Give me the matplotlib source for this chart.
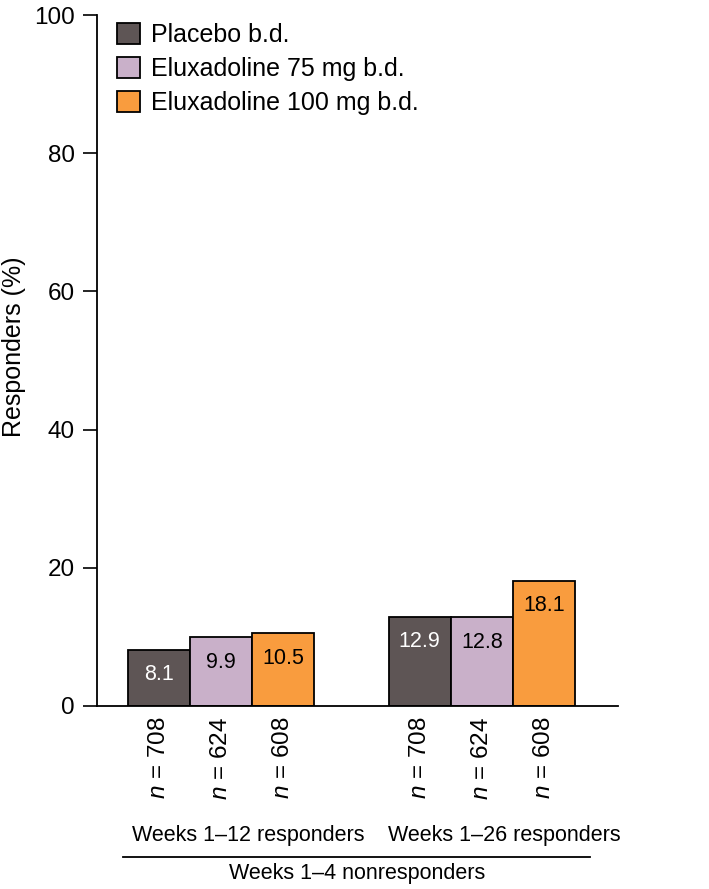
import matplotlib
matplotlib.use("Agg")
import matplotlib.pyplot as plt
from matplotlib.patches import Patch

plt.rcParams['font.family'] = ['Liberation Sans', 'DejaVu Sans']
plt.rcParams['mathtext.fontset'] = 'custom'
plt.rcParams['mathtext.it'] = 'Liberation Sans:italic'
plt.rcParams['mathtext.rm'] = 'Liberation Sans'

treatments = ['Placebo b.d.', 'Eluxadoline 75 mg b.d.', 'Eluxadoline 100 mg b.d.']
colors = ['#5e5555', '#c9b0c9', '#f99c3e']
label_colors = ['white', 'black', 'black']
groups = ['Weeks 1\u201312 responders', 'Weeks 1\u201326 responders']
supergroup = 'Weeks 1\u20134 nonresponders'
responders = [[8.1, 9.9, 10.5], [12.9, 12.8, 18.1]]
n_values = [[708, 624, 608], [708, 624, 608]]
group_starts = [1.0, 5.2]

fig = plt.figure(figsize=(7.09, 8.89), dpi=100)
ax = fig.add_axes([0.137, 0.206, 0.735, 0.777])

for g, start in enumerate(group_starts):
    for i in range(3):
        x = start + i
        val = responders[g][i]
        ax.bar(x, val, width=1.0, color=colors[i], edgecolor='black', linewidth=1.3)
        ax.annotate(f'{val}', (x, val), xytext=(0, -18), textcoords='offset points',
                    ha='center', va='center', fontsize=15.5, color=label_colors[i])
        ax.annotate(f'$n$ = {n_values[g][i]}', (x, 0), xytext=(0, -8),
                    textcoords='offset points', ha='center', va='top',
                    rotation=90, fontsize=17.5)

ax.set_xlim(0, 8.4)
ax.set_ylim(0, 100)
ax.set_yticks(range(0, 101, 20))
ax.set_xticks([])
ax.tick_params(axis='y', length=10, width=1.2, labelsize=17.5, pad=6)
for s in ['top', 'right']:
    ax.spines[s].set_visible(False)
for s in ['left', 'bottom']:
    ax.spines[s].set_linewidth(1.3)
ax.set_ylabel('Responders (%)', fontsize=18)
ax.yaxis.set_label_coords(-0.136, 0.52)

# group labels below the axis
ax.text(0.2893, -0.188, groups[0], transform=ax.transAxes, ha='center', va='center', fontsize=15.5)
ax.text(0.7812, -0.188, groups[1], transform=ax.transAxes, ha='center', va='center', fontsize=15.5)
ax.plot([0.05, 0.946], [-0.2185, -0.2185], transform=ax.transAxes, color='black',
        linewidth=1.3, clip_on=False)
ax.text(0.499, -0.242, supergroup, transform=ax.transAxes, ha='center', va='center', fontsize=15.5)

handles = [Patch(facecolor=c, edgecolor='black', linewidth=1.3) for c in colors]
ax.legend(handles, treatments, loc='upper left', bbox_to_anchor=(0.01, 1.01), frameon=False,
          fontsize=18, handlelength=0.9, handleheight=0.9, handletextpad=0.45,
          labelspacing=0.4, borderaxespad=0.2)

fig.savefig('out.png', dpi=100)
